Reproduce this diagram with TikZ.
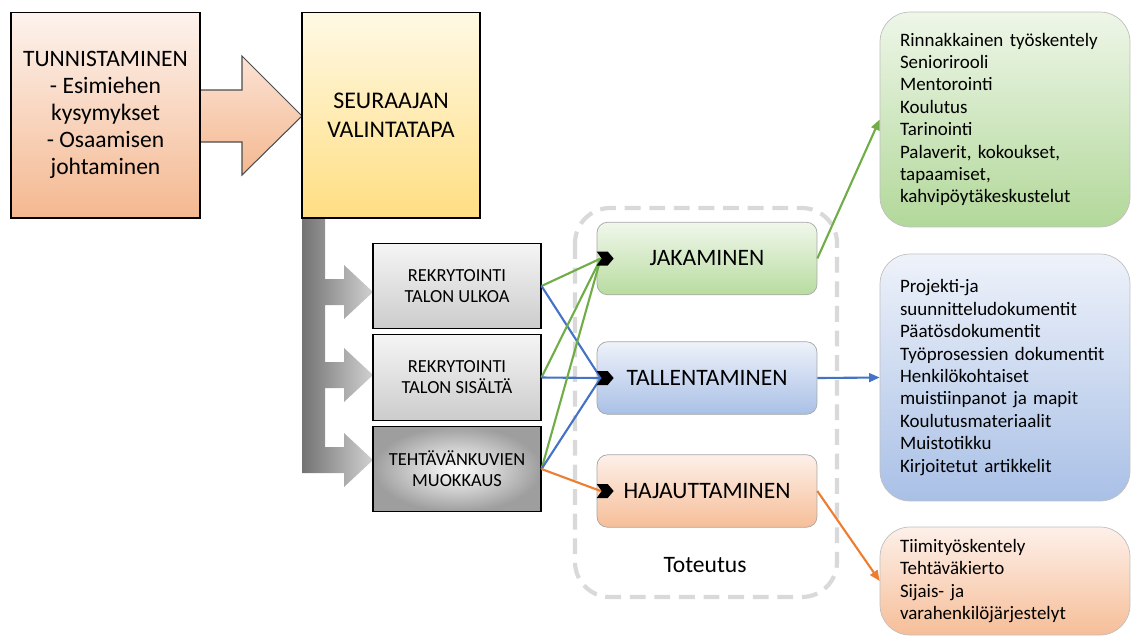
\documentclass[tikz,border=0pt]{standalone}
\usepackage{fontspec}
\setmainfont{Carlito}
\usetikzlibrary{calc,arrows.meta}

\newcommand{\chevmark}[1]{\fill ($(#1.west)+(0,-7)$) -- ++(11,0) -- ++(6,7) -- ++(-6,7) -- ++(-11,0) -- ++(5,-7) -- cycle;}

\tikzset{
    sourcebox/.style={draw=black, line width=0.6pt, align=center, minimum height=4.12cm},
    graybox/.style={draw=black, line width=0.6pt, align=center, minimum width=3.36cm, minimum height=1.71cm, font=\fontsize{10.5}{12}\selectfont},
    stagebox/.style={draw=C6, rounded corners=6pt, minimum width=4.4cm, minimum height=1.45cm, font=\fontsize{13.4}{15}\selectfont},
    listbox/.style={draw=C7, rounded corners=17pt, minimum width=5cm, text width=4.2cm, inner xsep=0.4cm, align=left, font=\fontsize{10.8}{12.75}\selectfont\frenchspacing},
    link/.style={line width=1.2pt},
}

\begin{document}
\begin{tikzpicture}[x=0.02cm, y=-0.02cm]
    \definecolor{C0}{HTML}{70AD47}
    \definecolor{C1}{HTML}{4472C4}
    \definecolor{C2}{HTML}{ED7D31}
    \definecolor{C3}{HTML}{D9D9D9}
    \definecolor{C6}{HTML}{A6A6A6}
    \definecolor{C7}{HTML}{BFBFBF}

    \useasboundingbox (0,0) rectangle (1131,637);

    \path[draw=black!70, line width=0.6pt, top color={rgb,255:red,251;green,226;blue,212}, bottom color={rgb,255:red,244;green,184;blue,144}]
        (200,90) -- (242,90) -- (242,56) -- (302,116) -- (242,175) -- (242,142) -- (200,142);
    \path[left color=black!55, right color=black!18]
        (302,218) -- (325,218) -- (325,279) -- (344,279) -- (344,265) -- (373,292) -- (344,319) -- (344,305)
        -- (325,305) -- (325,362) -- (344,362) -- (344,348) -- (373,375) -- (344,402) -- (344,388)
        -- (325,388) -- (325,447) -- (344,447) -- (344,433) -- (373,460) -- (344,487) -- (344,473)
        -- (302,473) -- cycle;

    \node[sourcebox, minimum width=3.78cm, font=\fontsize{13.4}{15.3}\selectfont,
        top color={rgb,255:red,253;green,243;blue,238}, bottom color={rgb,255:red,244;green,184;blue,144}]
        (tunn) at (105.5,115) {TUNNISTAMINEN\\- Esimiehen\\kysymykset\\- Osaamisen\\johtaminen};
    \node[sourcebox, minimum width=3.56cm, font=\fontsize{13.6}{16.8}\selectfont,
        top color={rgb,255:red,255;green,249;blue,229}, bottom color={rgb,255:red,255;green,222;blue,130}]
        (seur) at (391,115) {SEURAAJAN\\VALINTATAPA};

    \node[graybox, top color=black!4, bottom color=black!20] (ulkoa) at (457,286) {REKRYTOINTI\\TALON ULKOA};
    \node[graybox, top color=black!4, bottom color=black!20] (sisalta) at (457,377.5) {REKRYTOINTI\\TALON SIS\"ALT\"A};
    \node[graybox, shading=radial, inner color=white, outer color=black!38] (muokkaus) at (457,469) {TEHT\"AV\"ANKUVIEN\\MUOKKAUS};

    \path[draw=C3, line width=2.4pt, dash pattern=on 9pt off 5pt, rounded corners=20pt] (575,208) rectangle (837,597);
    \node[font=\fontsize{13.4}{15}\selectfont] (toteutus) at (705,565) {Toteutus};

    \node[stagebox, top color={rgb,255:red,240;green,247;blue,235}, bottom color={rgb,255:red,184;green,220;blue,160}] (jak) at (707,258.5) {JAKAMINEN};
    \node[stagebox, top color={rgb,255:red,238;green,242;blue,250}, bottom color={rgb,255:red,169;green,192;blue,230}] (tall) at (707,378) {TALLENTAMINEN};
    \node[stagebox, top color={rgb,255:red,253;green,240;blue,233}, bottom color={rgb,255:red,246;green,190;blue,152}] (haj) at (707,491) {HAJAUTTAMINEN};

    \node[listbox, minimum height=4.3cm, top color={rgb,255:red,238;green,246;blue,232}, bottom color={rgb,255:red,178;green,216;blue,154}]
        (green) at (1005,119.5) {Rinnakkainen ty\"oskentely\\Seniorirooli\\Mentorointi\\Koulutus\\Tarinointi\\Palaverit, kokoukset,\\tapaamiset,\\kahvip\"oyt\"akeskustelut};
    \node[listbox, minimum height=4.94cm, top color={rgb,255:red,238;green,242;blue,250}, bottom color={rgb,255:red,169;green,192;blue,230}]
        (blue) at (1005,377.5) {Projekti-ja\\suunnitteludokumentit\\P\"aat\"osdokumentit\\Ty\"oprosessien dokumentit\\Henkil\"okohtaiset\\muistiinpanot ja mapit\\Koulutusmateriaalit\\Muistotikku\\Kirjoitetut artikkelit};
    \node[listbox, minimum height=2.16cm, top color={rgb,255:red,253;green,240;blue,233}, bottom color={rgb,255:red,246;green,190;blue,152}]
        (orange) at (1005,581) {Tiimity\"oskentely\\Teht\"av\"akierto\\Sijais- ja\\varahenkil\"oj\"arjestelyt};

    \coordinate (jakin) at ($(jak.west)+(4,0)$);
    \coordinate (tallin) at ($(tall.west)+(4,0)$);
    \coordinate (hajin) at ($(haj.west)+(4,0)$);

    \path[draw=C0, link] (ulkoa.east) -- (jakin);
    \path[draw=C1, link] (ulkoa.east) -- (tallin);
    \path[draw=C0, link] (sisalta.east) -- (jakin);
    \path[draw=C1, link] (sisalta.east) -- (tallin);
    \path[draw=C0, link] (muokkaus.east) -- (jakin);
    \path[draw=C1, link] (muokkaus.east) -- (tallin);
    \path[draw=C2, link] (muokkaus.east) -- (hajin);

    \chevmark{jak}
    \chevmark{tall}
    \chevmark{haj}

    \path[draw=C0, link, -{Triangle[length=6pt, width=5pt]}] (jak.east) -- (green.west);
    \path[draw=C1, link, -{Triangle[length=6pt, width=5pt]}] (tall.east) -- (blue.west);
    \path[draw=C2, link, -{Triangle[length=6pt, width=5pt]}] (haj.east) -- (orange.west);

\end{tikzpicture}
\end{document}
